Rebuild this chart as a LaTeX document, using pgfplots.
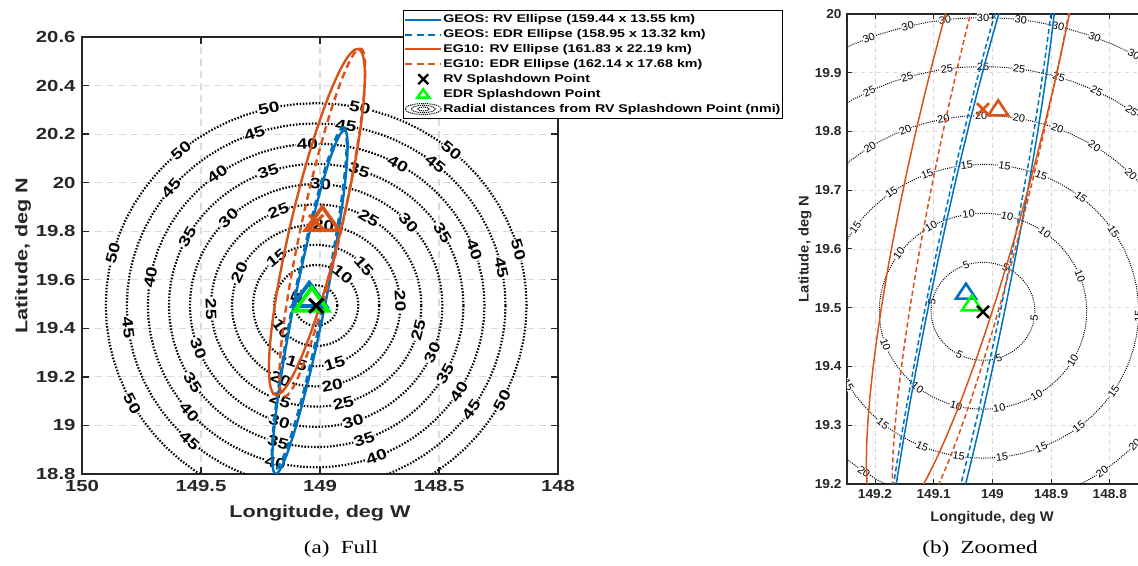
\documentclass[border=0pt]{standalone}
\usepackage{pgfplots}
\pgfplotsset{compat=1.18}
\usepackage{pgfplotstable}
\usepackage{fontspec}
\setmainfont{Liberation Serif}[FakeStretch=1.25]
\newfontfamily\mlab{Liberation Sans}[FakeStretch=1.27]
\newfontfamily\mlabn{Liberation Sans}[FakeStretch=1.05]

\definecolor{mblue}{rgb}{0,0.447,0.741}
\definecolor{morange}{rgb}{0.85,0.325,0.098}
\definecolor{mgreen}{rgb}{0,1,0}
\definecolor{axgray}{RGB}{38,38,38}
\definecolor{gridgray}{RGB}{218,218,218}

% unit circle (cos, sin), every 5 degrees
\pgfplotstableread{
c s
1 0
0.9962 0.0872
0.9848 0.1736
0.9659 0.2588
0.9397 0.3420
0.9063 0.4226
0.8660 0.5000
0.8192 0.5736
0.7660 0.6428
0.7071 0.7071
0.6428 0.7660
0.5736 0.8192
0.5000 0.8660
0.4226 0.9063
0.3420 0.9397
0.2588 0.9659
0.1736 0.9848
0.0872 0.9962
0 1
-0.0872 0.9962
-0.1736 0.9848
-0.2588 0.9659
-0.3420 0.9397
-0.4226 0.9063
-0.5000 0.8660
-0.5736 0.8192
-0.6428 0.7660
-0.7071 0.7071
-0.7660 0.6428
-0.8192 0.5736
-0.8660 0.5000
-0.9063 0.4226
-0.9397 0.3420
-0.9659 0.2588
-0.9848 0.1736
-0.9962 0.0872
-1 0
-0.9962 -0.0872
-0.9848 -0.1736
-0.9659 -0.2588
-0.9397 -0.3420
-0.9063 -0.4226
-0.8660 -0.5000
-0.8192 -0.5736
-0.7660 -0.6428
-0.7071 -0.7071
-0.6428 -0.7660
-0.5736 -0.8192
-0.5000 -0.8660
-0.4226 -0.9063
-0.3420 -0.9397
-0.2588 -0.9659
-0.1736 -0.9848
-0.0872 -0.9962
0 -1
0.0872 -0.9962
0.1736 -0.9848
0.2588 -0.9659
0.3420 -0.9397
0.4226 -0.9063
0.5000 -0.8660
0.5736 -0.8192
0.6428 -0.7660
0.7071 -0.7071
0.7660 -0.6428
0.8192 -0.5736
0.8660 -0.5000
0.9063 -0.4226
0.9397 -0.3420
0.9659 -0.2588
0.9848 -0.1736
0.9962 -0.0872
1 0
}\unitcircle

% ring of constant distance (nmi) around the RV splashdown point (149.016 W, 19.494 N)
% 1 nmi = 1/60 deg latitude = 0.017680 deg longitude at this latitude
\newcommand\ring[2]{\addplot[#1] table[
  x expr={149.016-#2*0.017680*\thisrow{c}},
  y expr={19.494+#2*0.0166667*\thisrow{s}}] {\unitcircle};}

% dispersion ellipse: style, lon W, lat N, major (km), minor (km), azimuth (deg east of north)
\newcommand\errellipse[6]{\addplot[#1] table[
  x expr={#2-(0.5*#4*sin(#6)*\thisrow{c}+0.5*#5*cos(#6)*\thisrow{s})/104.94},
  y expr={#3+(0.5*#4*cos(#6)*\thisrow{c}-0.5*#5*sin(#6)*\thisrow{s})/110.67}] {\unitcircle};}

% ring labels: radius (nmi), position angle on the ring (deg, counter-clockwise from east)
\newcommand\labL[2]{\node[labL,rotate={mod(#2,180)-90}] at (axis cs:{149.016-#1*0.01768*cos(#2)},{19.494+#1*0.0166667*sin(#2)}) {#1};}
\newcommand\labR[2]{\node[labR,rotate={mod(#2,180)-90}] at (axis cs:{149.016-#1*0.01768*cos(#2)},{19.494+#1*0.0166667*sin(#2)}) {#1};}

\tikzset{
  labL/.style={font=\mlab\bfseries\fontsize{15}{15}\selectfont, fill=white, inner sep=0.6pt, text=black},
  labR/.style={font=\mlabn\fontsize{10.5}{10.5}\selectfont, fill=white, inner sep=0.3pt, text=black},
}

\pgfplotsset{
  matlab/.style={
    scale only axis, x dir=reverse,
    grid=major,
    axis line style={axgray},
    tick style={axgray},
    tick align=inside,
    /pgf/number format/assume math mode=true,
    clip=true,
  },
}

\begin{document}
\begin{tikzpicture}
\useasboundingbox (0pt,0pt) rectangle (1138pt,565pt);

% ---------------- full view ----------------
\begin{axis}[matlab,
  at={(82pt,91pt)}, anchor=south west, width=476pt, height=437pt,
  xmin=148, xmax=150, ymin=18.8, ymax=20.6,
  xtick={148,148.5,149,149.5,150},
  ytick={18.8,19,19.2,19.4,19.6,19.8,20,20.2,20.4,20.6},
  grid style={gridgray, line width=1.2pt, dash pattern=on 7pt off 5pt},
  axis line style={line width=1.6pt},
  tick style={line width=1.3pt}, major tick length=7pt,
  tick label style={font=\mlab\bfseries\fontsize{16}{16}\selectfont, text=axgray},
  yticklabel style={xshift=-3pt},
  xticklabel style={yshift=-3pt},
  xlabel={Longitude, deg W}, ylabel={Latitude, deg N},
  label style={font=\mlab\bfseries\fontsize{17}{17}\selectfont, text=axgray},
  xlabel style={at={(axis description cs:0.5,-0.089)}, anchor=center},
  ylabel style={at={(axis description cs:-0.124,0.5)}, anchor=center},
  legend cell align=left,
  legend style={at={(axis description cs:0.674,1.062)}, anchor=north west,
    draw=black, line width=0.9pt, fill=white,
    font=\mlab\bfseries\fontsize{11.2}{13}\selectfont,
    inner xsep=1pt, inner ysep=2.5pt, row sep=1.4pt,
    nodes={inner sep=1pt, text height=9pt, text depth=2.5pt}},
]
\addlegendimage{legend image code/.code={\draw[mblue, line width=2pt] (0pt,0pt) -- (36pt,0pt);}}
\addlegendentry{GEOS: RV Ellipse (159.44 x 13.55 km)}
\addlegendimage{legend image code/.code={\draw[mblue, line width=2pt, dash pattern=on 7pt off 4.5pt] (0pt,0pt) -- (36pt,0pt);}}
\addlegendentry{GEOS: EDR Ellipse (158.95 x 13.32 km)}
\addlegendimage{legend image code/.code={\draw[morange, line width=2pt] (0pt,0pt) -- (36pt,0pt);}}
\addlegendentry{EG10: RV Ellipse (161.83 x 22.19 km)}
\addlegendimage{legend image code/.code={\draw[morange, line width=2pt, dash pattern=on 7pt off 4.5pt] (0pt,0pt) -- (36pt,0pt);}}
\addlegendentry{EG10: EDR Ellipse (162.14 x 17.68 km)}
\addlegendimage{legend image code/.code={\draw[black, line width=2.4pt, mark size=7pt] plot[only marks, mark=x] coordinates {(18pt,0pt)};}}
\addlegendentry{RV Splashdown Point}
\addlegendimage{legend image code/.code={\draw[mgreen, line width=2.6pt, mark size=5.5pt] plot[only marks, mark=triangle, mark options={xscale=1.25}] coordinates {(18pt,-0.8pt)};}}
\addlegendentry{EDR Splashdown Point}
\addlegendimage{legend image code/.code={\draw[black, line width=1pt, dash pattern=on 1pt off 0.9pt]
  (18pt,0pt) ellipse [x radius=18pt, y radius=5.5pt]
  (18pt,0pt) ellipse [x radius=12pt, y radius=3.6pt]
  (18pt,0pt) ellipse [x radius=6pt, y radius=1.8pt];}}
\addlegendentry{Radial distances from RV Splashdown Point (nmi)}

% distance rings
\pgfplotsinvokeforeach{5,10,15,20,25,30,35,40,45,50}{
  \ring{black, line width=2.2pt, dash pattern=on 1.5pt off 1.7pt, forget plot}{#1}
}
\labL{50}{16}\labL{50}{50}\labL{50}{78}\labL{50}{103}\labL{50}{130}\labL{50}{165}\labL{50}{209}\labL{50}{332}
\labL{45}{12}\labL{45}{51}\labL{45}{81}\labL{45}{109}\labL{45}{140}\labL{45}{187}\labL{45}{228}\labL{45}{325}
\labL{40}{20}\labL{40}{61}\labL{40}{93}\labL{40}{126}\labL{40}{170}\labL{40}{221}\labL{40}{256}\labL{40}{291}\labL{40}{328}
\labL{35}{31}\labL{35}{73}\labL{35}{109}\labL{35}{151}\labL{35}{213}\labL{35}{255}\labL{35}{289}\labL{35}{331}
\labL{30}{43}\labL{30}{88}\labL{30}{134}\labL{30}{201}\labL{30}{253}\labL{30}{287}\labL{30}{337}
\labL{25}{60}\labL{25}{111}\labL{25}{182}\labL{25}{250}\labL{25}{285}\labL{25}{346}
\labL{20}{3}\labL{20}{85}\labL{20}{156}\labL{20}{245}\labL{20}{281}
\labL{15}{41}\labL{15}{129}\labL{15}{252}\labL{15}{287}
\labL{10}{51}\labL{10}{215}
\labL{5}{158}

% dispersion ellipses
\errellipse{mblue, line width=2.4pt, forget plot}{149.042}{19.508}{159.44}{13.55}{11}
\errellipse{mblue, line width=2.4pt, dash pattern=on 7pt off 4.5pt, forget plot}{149.045}{19.524}{158.95}{13.32}{11}
\errellipse{morange, line width=2.4pt, forget plot}{149.013}{19.838}{161.83}{22.19}{13}
\errellipse{morange, line width=2.4pt, dash pattern=on 7pt off 4.5pt, forget plot}{148.990}{19.836}{162.14}{17.68}{12}

% ellipse centres and splashdown points
\addplot[only marks, mark=x, morange, line width=3.2pt, mark size=10pt, forget plot] coordinates {(149.016,19.838)};
\addplot[only marks, mark=triangle, morange, line width=3.8pt, mark size=15.5pt, mark options={xscale=1.25}, forget plot] coordinates {(148.990,19.836)};
\addplot[only marks, mark=triangle, mblue, line width=3.8pt, mark size=15.5pt, mark options={xscale=1.25}, forget plot] coordinates {(149.045,19.524)};
\addplot[only marks, mark=triangle, mgreen, line width=3.8pt, mark size=15.5pt, mark options={xscale=1.25}, forget plot] coordinates {(149.035,19.504)};
\addplot[only marks, mark=x, black, line width=3.2pt, mark size=10pt, forget plot] coordinates {(149.016,19.493)};
\end{axis}

% ---------------- zoomed view ----------------
\begin{axis}[matlab,
  at={(847pt,81pt)}, anchor=south west, width=298pt, height=470pt,
  xmin=148.74, xmax=149.2477, ymin=19.2, ymax=20,
  xtick={148.8,148.9,149,149.1,149.2},
  ytick={19.2,19.3,19.4,19.5,19.6,19.7,19.8,19.9,20},
  grid style={gridgray, line width=0.9pt, dash pattern=on 4.5pt off 3.5pt},
  axis line style={line width=1.3pt},
  tick style={line width=1pt}, major tick length=5pt,
  tick label style={font=\mlabn\bfseries\fontsize{13}{13}\selectfont, text=axgray},
  yticklabel style={xshift=-2pt},
  xticklabel style={yshift=-2pt},
  xlabel={Longitude, deg W}, ylabel={Latitude, deg N},
  label style={font=\mlabn\bfseries\fontsize{14}{14}\selectfont, text=axgray},
  xlabel style={at={(axis description cs:0.487,-0.072)}, anchor=center},
  ylabel style={at={(axis description cs:-0.141,0.5)}, anchor=center},
]
\pgfplotsinvokeforeach{5,10,15,20,25,30,35}{
  \ring{black, line width=1pt, dash pattern=on 1pt off 1.2pt}{#1}
}
\labR{30}{61}\labR{30}{69}\labR{30}{76}\labR{30}{83}\labR{30}{90}\labR{30}{97}\labR{30}{104}\labR{30}{111.5}
\labR{25}{55}\labR{25}{64}\labR{25}{73}\labR{25}{82}\labR{25}{90}\labR{25}{98}\labR{25}{107}\labR{25}{116}
\labR{20}{44.5}\labR{20}{57.5}\labR{20}{69}\labR{20}{80}\labR{20}{90.5}\labR{20}{101}\labR{20}{112}\labR{20}{123}\labR{20}{235}\labR{20}{305}\labR{20}{317}
\labR{15}{33}\labR{15}{51}\labR{15}{68}\labR{15}{82}\labR{15}{96}\labR{15}{111}\labR{15}{126}\labR{15}{145}\labR{15}{210}\labR{15}{230}\labR{15}{247}\labR{15}{261}\labR{15}{277}\labR{15}{292}\labR{15}{308}\labR{15}{327}\labR{15}{358}
\labR{10}{21}\labR{10}{53.5}\labR{10}{76.5}\labR{10}{98}\labR{10}{120}\labR{10}{144}\labR{10}{200}\labR{10}{231}\labR{10}{255}\labR{10}{279}\labR{10}{301}\labR{10}{330}
\labR{5}{64}\labR{5}{109}\labR{5}{169}\labR{5}{243}\labR{5}{288}\labR{5}{352}

\errellipse{mblue, line width=1.5pt}{149.042}{19.508}{159.44}{13.55}{11}
\errellipse{mblue, line width=1.5pt, dash pattern=on 5pt off 3pt}{149.045}{19.524}{158.95}{13.32}{11}
\errellipse{morange, line width=1.5pt}{149.013}{19.838}{161.83}{22.19}{13}
\errellipse{morange, line width=1.5pt, dash pattern=on 5pt off 3pt}{148.990}{19.836}{162.14}{17.68}{12}

\addplot[only marks, mark=x, morange, line width=2.6pt, mark size=8.5pt] coordinates {(149.016,19.838)};
\addplot[only marks, mark=triangle, morange, line width=2.6pt, mark size=10pt, mark options={xscale=1.15}] coordinates {(148.990,19.836)};
\addplot[only marks, mark=triangle, mblue, line width=2.6pt, mark size=10pt, mark options={xscale=1.15}] coordinates {(149.045,19.524)};
\addplot[only marks, mark=triangle, mgreen, line width=2.6pt, mark size=10pt, mark options={xscale=1.15}] coordinates {(149.035,19.504)};
\addplot[only marks, mark=x, black, line width=2.6pt, mark size=8.5pt] coordinates {(149.016,19.493)};
\end{axis}

\node[font=\fontsize{18.5}{18.5}\selectfont] at (341pt,16pt) {(a)\hspace{0.6em}Full};
\node[font=\fontsize{18.5}{18.5}\selectfont] at (980pt,16pt) {(b)\hspace{0.6em}Zoomed};
\end{tikzpicture}
\end{document}
